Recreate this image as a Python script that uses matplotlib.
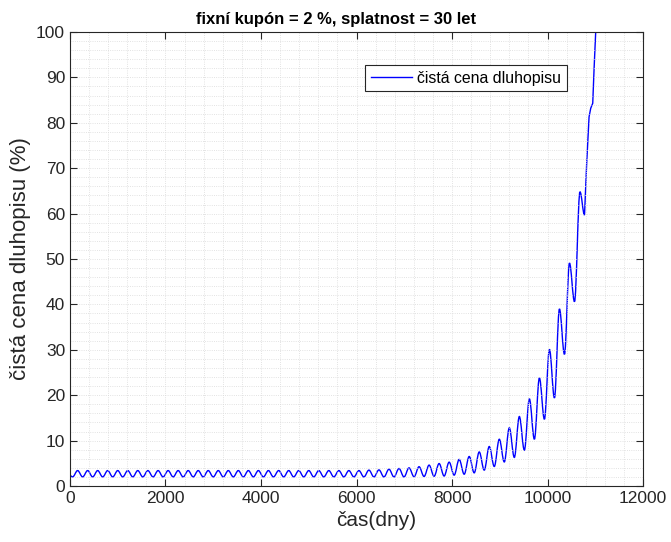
import matplotlib
matplotlib.use("Agg")
import matplotlib.pyplot as plt
from matplotlib.ticker import MultipleLocator
from matplotlib.path import Path
from matplotlib.patches import PathPatch
from matplotlib.lines import Line2D

# odectene hodnoty z grafu: vrcholy a dna oscilaci ciste ceny
vrcholy_t = [160, 370, 580, 790, 1000, 1210, 1420, 1630, 1845, 2055, 2265, 2475,
             2685, 2895, 3105, 3315, 3525, 3735, 3945, 4155, 4370, 4580, 4790, 5000,
             5210, 5420, 5630, 5840, 6050, 6260, 6470, 6680, 6890, 7100, 7310, 7520,
             7730, 7940, 8150, 8360, 8570, 8780, 8990, 9200, 9410, 9620, 9830, 10040,
             10250, 10460, 10680]
vrcholy = [3.4, 3.4, 3.4, 3.4, 3.4, 3.4, 3.4, 3.4, 3.4, 3.4, 3.4, 3.4,
           3.4, 3.4, 3.4, 3.4, 3.4, 3.4, 3.4, 3.4, 3.4, 3.4, 3.4, 3.4,
           3.4, 3.4, 3.4, 3.4, 3.4, 3.5, 3.55, 3.7, 3.85, 4.0, 4.25, 4.6,
           4.95, 5.25, 5.85, 6.5, 7.5, 8.7, 10.3, 12.8, 15.3, 19.2, 23.8, 30.1,
           39.0, 49.1, 64.8]

dna_t = [55, 265, 475, 685, 895, 1105, 1315, 1525, 1740, 1950, 2160, 2370,
         2580, 2790, 3000, 3210, 3420, 3630, 3840, 4050, 4260, 4475, 4685, 4895,
         5105, 5315, 5525, 5735, 5945, 6155, 6365, 6575, 6785, 6995, 7205, 7415,
         7625, 7835, 8045, 8255, 8465, 8675, 8885, 9095, 9305, 9515, 9725, 9935,
         10145, 10355, 10565, 10775]
dna = [2.0, 2.0, 2.0, 2.0, 2.0, 2.0, 2.0, 2.0, 2.0, 2.0, 2.0, 2.0,
       2.0, 2.0, 2.0, 2.0, 2.0, 2.0, 2.0, 2.0, 2.0, 2.0, 2.0, 2.0,
       2.0, 2.0, 2.0, 2.0, 2.0, 2.0, 2.0, 2.0, 2.0, 2.0, 2.05, 2.1,
       2.15, 2.2, 2.4, 2.6, 2.9, 3.5, 4.3, 5.3, 6.3, 7.9, 10.3, 14.7,
       19.4, 29.0, 40.6, 59.7]

# zacatek a konec krivky
start_t = [0]
start_cena = [2.3]
konec_t = [10820, 10870, 10905, 10947, 10974, 11009, 11030]
konec_cena = [71.0, 81.3, 83.2, 84.3, 91.6, 100.0, 106.0]

extremy = sorted(zip(start_t + vrcholy_t + dna_t, start_cena + vrcholy + dna))

# hladka krivka mezi extremy (vodorovna tecna ve vrcholu a dne), konec lomene
verts = [extremy[0]]
codes = [Path.MOVETO]
for (t0, y0), (t1, y1) in zip(extremy[:-1], extremy[1:]):
    d = 0.364 * (t1 - t0)
    verts += [(t0 + d, y0), (t1 - d, y1), (t1, y1)]
    codes += [Path.CURVE4] * 3
for t, y in zip(konec_t, konec_cena):
    verts.append((t, y))
    codes.append(Path.LINETO)

plt.rcParams['font.family'] = ['Liberation Sans', 'DejaVu Sans']
seda = '#262626'

fig = plt.figure(figsize=(6.71, 5.42), dpi=100)
ax = fig.add_axes([0.1043, 0.1033, 0.854, 0.8377])

ax.add_patch(PathPatch(Path(verts, codes), facecolor='none', edgecolor='blue', lw=1.0))

ax.set_xlim(0, 12000)
ax.set_ylim(0, 100)
ax.xaxis.set_major_locator(MultipleLocator(2000))
ax.yaxis.set_major_locator(MultipleLocator(10))
ax.xaxis.set_minor_locator(MultipleLocator(400))
ax.yaxis.set_minor_locator(MultipleLocator(2))
ax.grid(which='major', color='#d9d9d9', lw=0.6, ls=':')
ax.grid(which='minor', color='#d9d9d9', lw=0.6, ls=':')
ax.tick_params(which='both', direction='in', top=True, right=True, colors=seda,
               labelsize=12.5)
ax.tick_params(which='major', length=5, width=0.8)
ax.tick_params(which='minor', length=0)
for s in ax.spines.values():
    s.set_color(seda)
    s.set_linewidth(0.8)

ax.set_title('fixní kupón = 2 %, splatnost = 30 let', fontsize=12, fontweight='bold',
             color='black', pad=6, x=0.465)
ax.set_xlabel('čas(dny)', fontsize=15, color=seda, x=0.534)
ax.set_ylabel('čistá cena dluhopisu (%)', fontsize=16, color=seda)

handle = Line2D([], [], color='blue', lw=1.0)
leg = ax.legend([handle], ['čistá cena dluhopisu'], loc='upper right',
                bbox_to_anchor=(0.8674, 0.9273), borderaxespad=0, fontsize=11.4,
                fancybox=False, framealpha=1, edgecolor=seda, handlelength=2.6,
                handletextpad=0.35, borderpad=0.35)
leg.get_frame().set_linewidth(0.8)

fig.savefig('out.png', dpi=100)
